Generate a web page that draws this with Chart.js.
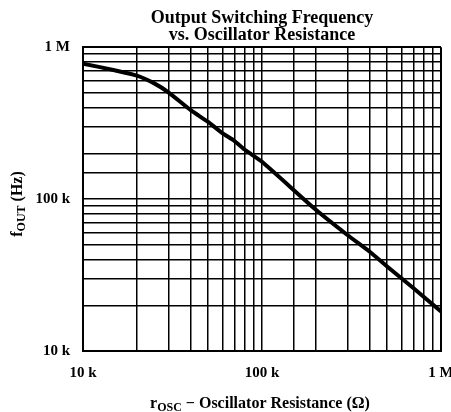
<!DOCTYPE html>
<html>
<head>
<meta charset="utf-8">
<script src="https://cdn.jsdelivr.net/npm/chart.js@4"></script>
<style>
  html, body { margin: 0; padding: 0; background: #fff; }
  #wrap { width: 451px; height: 412px; }
</style>
</head>
<body>
<div id="wrap"><canvas id="chart"></canvas></div>
<script>
// Oscillator resistance (ohm) and output switching frequency (Hz)
const resistance = [10e3, 15e3, 20e3, 25e3, 30e3, 40e3, 50e3, 60e3, 70e3, 80e3, 100e3, 200e3, 300e3, 400e3, 500e3, 700e3, 1e6];
const frequency = [780e3, 705e3, 650e3, 578e3, 505e3, 385e3, 322e3, 272e3, 242e3, 212e3, 176e3, 85e3, 58e3, 45e3, 36e3, 26e3, 18.2e3];

// Labelled decades on both axes
const decadeValues = [1e4, 1e5, 1e6];
const decadeLabels = ['10 k', '100 k', '1 M'];

const serif = 'Liberation Serif';

function decadeLabel(value) {
    const i = decadeValues.indexOf(value);
    return i >= 0 ? decadeLabels[i] : '';
}

function gridWidth(ctx) {
    const v = ctx.tick && ctx.tick.value;
    return (v === 1e4 || v === 1e6) ? 2 : 1.5;
}

// Axis titles with subscripts (drawn on the canvas)
const axisTitles = {
    id: 'axisTitles',
    afterDraw(chart) {
        const ctx = chart.ctx;
        const area = chart.chartArea;
        const big = 'bold 16px "' + serif + '"';
        const small = 'bold 12px "' + serif + '"';
        ctx.save();
        ctx.fillStyle = '#000';
        ctx.textBaseline = 'alphabetic';

        // x title
        const parts = [['r', big, 0], ['OSC', small, 3], [' \u2212 Oscillator Resistance (\u03A9)', big, 0]];
        let total = 0;
        parts.forEach(p => { ctx.font = p[1]; total += ctx.measureText(p[0]).width; });
        let x = (area.left + area.right) / 2 - total / 2 - 2;
        parts.forEach(p => {
            ctx.font = p[1];
            ctx.fillText(p[0], x, 408 + p[2]);
            x += ctx.measureText(p[0]).width;
        });

        // y title
        const yparts = [['f', big, 0], ['OUT', small, 3], [' (Hz)', big, 0]];
        total = 0;
        yparts.forEach(p => { ctx.font = p[1]; total += ctx.measureText(p[0]).width; });
        ctx.translate(22, 204);
        ctx.rotate(-Math.PI / 2);
        x = -total / 2;
        yparts.forEach(p => {
            ctx.font = p[1];
            ctx.fillText(p[0], x, p[2]);
            x += ctx.measureText(p[0]).width;
        });
        ctx.restore();
    }
};

new Chart(document.getElementById('chart'), {
    type: 'line',
    data: {
        datasets: [{
            data: resistance.map((r, i) => ({ x: r, y: frequency[i] })),
            borderColor: '#000',
            borderWidth: 4,
            pointRadius: 0,
            tension: 0.2,
            fill: false
        }]
    },
    options: {
        responsive: true,
        maintainAspectRatio: false,
        animation: false,
        layout: { padding: { top: 0, right: 10, bottom: 0, left: 0 } },
        plugins: {
            legend: { display: false },
            tooltip: { enabled: false },
            title: {
                display: true,
                fullSize: false,
                text: ['Output Switching Frequency', 'vs. Oscillator Resistance'],
                color: '#000',
                font: { family: serif, size: 18, weight: 'bold', lineHeight: 0.95 },
                padding: { top: 10, bottom: 3 }
            }
        },
        scales: {
            x: {
                type: 'logarithmic',
                min: 1e4,
                max: 1e6,
                grid: { color: '#000', lineWidth: gridWidth, drawTicks: false },
                border: { color: '#000', width: 2 },
                ticks: {
                    autoSkip: false,
                    maxRotation: 0,
                    padding: 13,
                    color: '#000',
                    font: { family: serif, size: 15, weight: 'bold' },
                    callback: decadeLabel
                },
                afterFit(scale) {
                    scale.height = 61;
                    scale.paddingLeft = 0;
                    scale.paddingRight = 0;
                }
            },
            y: {
                type: 'logarithmic',
                min: 1e4,
                max: 1e6,
                grid: { color: '#000', lineWidth: gridWidth, drawTicks: false },
                border: { color: '#000', width: 2 },
                ticks: {
                    autoSkip: false,
                    padding: 13,
                    color: '#000',
                    font: { family: serif, size: 15, weight: 'bold' },
                    callback: decadeLabel
                },
                afterFit(scale) {
                    scale.width = 83;
                    scale.paddingTop = 0;
                    scale.paddingBottom = 0;
                }
            }
        }
    },
    plugins: [axisTitles]
});
</script>
</body>
</html>
